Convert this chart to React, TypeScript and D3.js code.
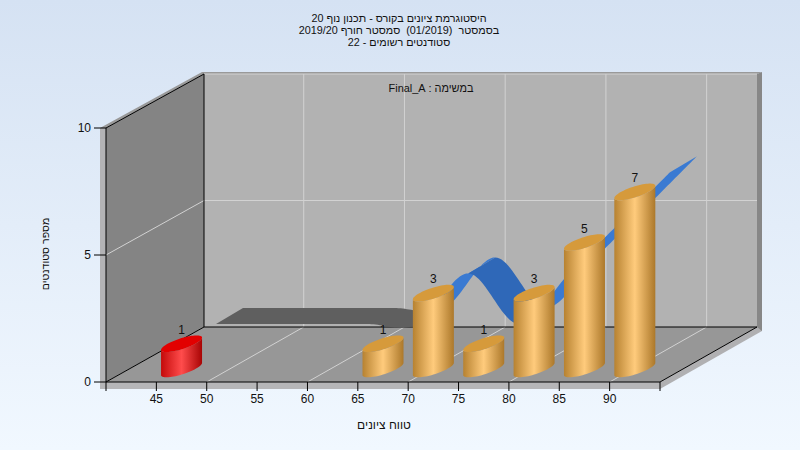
import React from "react";
import * as d3 from "d3";

const W = 800, H = 450;
const categories = [45, 50, 55, 60, 65, 70, 75, 80, 85, 90];
const counts = [1, 0, 0, 0, 1, 3, 1, 3, 5, 7];
const ribbonValues = [0, 0, 0, 0, 0, 2, 0, 2, 4, 6];
const yTicks = [0, 5, 10];
const titleLines = [
  "היסטוגרמת ציונים בקורס - תכנון נוף 20",
  "בסמסטר  (01/2019)  סמסטר חורף 2019/20",
  "סטודנטים רשומים - 22",
];
const subtitle = "במשימה : Final_A";
const yTitle = "מספר סטודנטים";
const xTitle = "טווח ציונים";
const failMax = 45;

const font = "'Liberation Sans', Arial, sans-serif";
const x = d3.scaleLinear().domain([40, 95]).range([106, 660]);
const y = d3.scaleLinear().domain([0, 10]).range([382, 128]);
const yBack = d3.scaleLinear().domain([0, 10]).range([327, 74]);
const depth = { dx: 98, dy: -55 };
const gridX = [50, 60, 70, 80, 90];
const allTicks = d3.range(40, 100, 5);

const barUnit = 25.3;
const barBase = 369;
const ax = 20.5, by = 5.6, shear = -0.3;
const ribbonX = d3.scaleLinear().domain([45, 90]).range([216, 670]);
const ribbonY = d3.scaleLinear().domain([0, 10]).range([324, 71]);
const ribbonOff = { dx: 27, dy: -16 };

const lineGen = d3.line();

function ellipsePoint(cx: number, cy: number, t: number): [number, number] {
  return [cx + ax * Math.cos(t), cy + by * Math.sin(t) + shear * ax * Math.cos(t)];
}

function barPaths(v: number, count: number) {
  const cx = x(v + 2.5);
  const top = barBase - count * barUnit;
  const steps = d3.range(0, 33).map((i) => i / 32);
  const baseFront = steps.map((s) => ellipsePoint(cx, barBase, Math.PI - Math.PI * s));
  const topFront = steps.map((s) => ellipsePoint(cx, top, Math.PI * s));
  const cap = d3.range(0, 65).map((i) => ellipsePoint(cx, top, (2 * Math.PI * i) / 64));
  return {
    body: (lineGen([...baseFront, ...topFront]) ?? "") + "Z",
    cap: (lineGen(cap) ?? "") + "Z",
    cx,
    top,
  };
}

// Catmull-Rom sampling of the ribbon's front edge, grouped into runs of one colour
function ribbonRuns() {
  const pts = categories.map((c, i) => [ribbonX(c), ribbonY(ribbonValues[i])]);
  const flatEnd = ribbonValues.findIndex((v) => v > 0) - 1;
  const runs: { fill: string; pts: [number, number][] }[] = [];
  for (let i = 0; i < pts.length - 1; i++) {
    const p0 = pts[Math.max(0, i - 1)], p1 = pts[i], p2 = pts[i + 1], p3 = pts[Math.min(pts.length - 1, i + 2)];
    const f = (s: number, a: number, b: number, c: number, d: number) =>
      0.5 * (2 * b + (c - a) * s + (2 * a - 5 * b + 4 * c - d) * s * s + (3 * b - a - 3 * c + d) * s * s * s);
    for (let k = 0; k < 24; k++) {
      const s0 = k / 24, s1 = (k + 1) / 24;
      const a: [number, number] = [f(s0, p0[0], p1[0], p2[0], p3[0]), f(s0, p0[1], p1[1], p2[1], p3[1])];
      const b: [number, number] = [f(s1, p0[0], p1[0], p2[0], p3[0]), f(s1, p0[1], p1[1], p2[1], p3[1])];
      const fill = i < flatEnd ? "#5f5f5f" : b[1] < a[1] ? "#3a7ad2" : "#2f68b8";
      const cur = runs[runs.length - 1];
      if (cur && cur.fill === fill) cur.pts.push(b);
      else runs.push({ fill, pts: [a, b] });
    }
  }
  return runs.map((r) => ({
    fill: r.fill,
    d:
      (lineGen([
        ...r.pts,
        ...[...r.pts].reverse().map(([a, b]) => [a + ribbonOff.dx, b + ribbonOff.dy] as [number, number]),
      ]) ?? "") + "Z",
  }));
}

function App() {
  const runs = ribbonRuns();
  const bl = [x(40), y(0)], tl = [x(40), y(10)];
  const br = [x(95), y(0)];
  const blB = [bl[0] + depth.dx, yBack(0)], tlB = [tl[0] + depth.dx, yBack(10)];
  const brB = [br[0] + 97, yBack(0)], trB = [br[0] + 97, yBack(10)];
  const poly = (pts: number[][]) => (lineGen(pts as [number, number][]) ?? "") + "Z";
  const bars = categories.map((c, i) => ({ c, n: counts[i] })).filter((b) => b.n > 0);

  return (
    <svg width={W} height={H} style={{ position: "fixed", left: 0, top: 0 }} fontFamily={font} fontSize={12}>
      <defs>
        <linearGradient id="bg" x1="0" y1="0" x2="0" y2="1">
          <stop offset="0" stopColor="#d5e2f3" />
          <stop offset="1" stopColor="#f1f8ff" />
        </linearGradient>
        <linearGradient id="gold" x1="0" y1="0" x2="1" y2="0">
          <stop offset="0" stopColor="#b78231" />
          <stop offset="0.5" stopColor="#ffcb7c" />
          <stop offset="1" stopColor="#ac782a" />
        </linearGradient>
        <linearGradient id="red" x1="0" y1="0" x2="1" y2="0">
          <stop offset="0" stopColor="#c40a0a" />
          <stop offset="0.5" stopColor="#ff4c4c" />
          <stop offset="1" stopColor="#a80404" />
        </linearGradient>
      </defs>
      <rect width={W} height={H} fill="url(#bg)" />

      {/* outer frame bands */}
      <path d={poly([[100, 128], [tl[0], tl[1]], [bl[0], br[1] + 6], [100, br[1] + 7]])} fill="#b3b3b5" />
      <path d={poly([[100, br[1]], [br[0], br[1]], [br[0], br[1] + 7], [100, br[1] + 7]])} fill="#b6b6b8" />
      <path d={poly([[br[0], br[1]], [brB[0], brB[1]], [brB[0] + 5, brB[1]], [brB[0] + 5, brB[1] + 4], [br[0], br[1] + 7]])} fill="#b0b0b2" />
      <path d={poly([[100, 128], [tlB[0] - 2, 72], [trB[0] + 5, 72], [trB[0], tlB[1]], [tlB[0], tlB[1]], [tl[0], tl[1]]])} fill="#999999" />
      <path d={poly([[trB[0], trB[1]], [trB[0] + 5, 72], [trB[0] + 5, brB[1] + 4], [brB[0], brB[1]]])} fill="#878787" />

      {/* walls */}
      <path d={poly([tl, tlB, blB, bl])} fill="#848484" />
      <path d={poly([tlB, trB, brB, blB])} fill="#b2b2b2" />
      <path d={poly([bl, blB, brB, br])} fill="#979797" />

      {/* gridlines */}
      {gridX.map((g) => (
        <g key={g} stroke="#d2d2d2" strokeWidth={1}>
          <line x1={x(g) + depth.dx - 1} x2={x(g) + depth.dx - 1} y1={yBack(10)} y2={yBack(0)} />
          <line x1={x(g)} y1={y(0)} x2={x(g) + depth.dx - 1} y2={yBack(0)} />
        </g>
      ))}
      {yTicks.slice(1).map((t) => (
        <line key={t} x1={tlB[0]} x2={trB[0]} y1={yBack(t)} y2={yBack(t)} stroke="#d2d2d2" />
      ))}
      <line x1={x(40)} y1={y(5)} x2={tlB[0]} y2={yBack(5)} stroke="#d2d2d2" />

      {/* axis frame */}
      <g stroke="#000" fill="none" strokeWidth={1}>
        <line x1={bl[0]} y1={bl[1]} x2={tl[0]} y2={tl[1]} />
        <line x1={tl[0]} y1={tl[1]} x2={tlB[0]} y2={tlB[1]} />
        <line x1={tlB[0]} y1={tlB[1]} x2={blB[0]} y2={blB[1]} />
        <line x1={bl[0]} y1={bl[1]} x2={blB[0]} y2={blB[1]} />
        <line x1={blB[0]} y1={blB[1]} x2={brB[0]} y2={brB[1]} />
        <line x1={bl[0]} y1={bl[1]} x2={br[0]} y2={br[1]} />
        <line x1={br[0]} y1={br[1]} x2={brB[0]} y2={brB[1]} />
        {allTicks.map((t) => (
          <line key={t} x1={x(t)} x2={x(t)} y1={y(0)} y2={y(0) + 9} />
        ))}
        {yTicks.map((t) => (
          <line key={t} x1={94} x2={x(40)} y1={y(t)} y2={y(t)} />
        ))}
      </g>

      {/* ribbon */}
      {runs.map((r, i) => (
        <path key={i} d={r.d} fill={r.fill} />
      ))}

      {/* bars */}
      {bars.map((b) => {
        const p = barPaths(b.c, b.n);
        const fail = b.c <= failMax;
        return (
          <g key={b.c}>
            <path d={p.body} fill={fail ? "url(#red)" : "url(#gold)"} />
            <path d={p.cap} fill={fail ? "#e20000" : "#d69a3b"} />
            <text x={p.cx} y={p.top - 10} textAnchor="middle" fill="#111">{b.n}</text>
          </g>
        );
      })}

      {/* axis labels */}
      {yTicks.map((t) => (
        <text key={t} x={91} y={y(t) + 4} textAnchor="end" fill="#111">{t}</text>
      ))}
      {categories.map((c) => (
        <text key={c} x={x(c)} y={403} textAnchor="middle" fill="#111">{c}</text>
      ))}

      {/* titles */}
      {titleLines.map((l, i) => (
        <text key={i} x={399} y={22 + i * 12} textAnchor="middle" direction="rtl" fontSize={10.8} style={{ whiteSpace: "pre" }} fill="#111">{l}</text>
      ))}
      <text x={431} y={92} textAnchor="middle" direction="rtl" fontSize={10.9} fill="#111">{subtitle}</text>
      <text x={384} y={429} textAnchor="middle" direction="rtl" fill="#111">{xTitle}</text>
      <text transform="translate(49,254) rotate(-90)" textAnchor="middle" direction="rtl" fontSize={10.6} fill="#111">{yTitle}</text>
    </svg>
  );
}

export default App;
